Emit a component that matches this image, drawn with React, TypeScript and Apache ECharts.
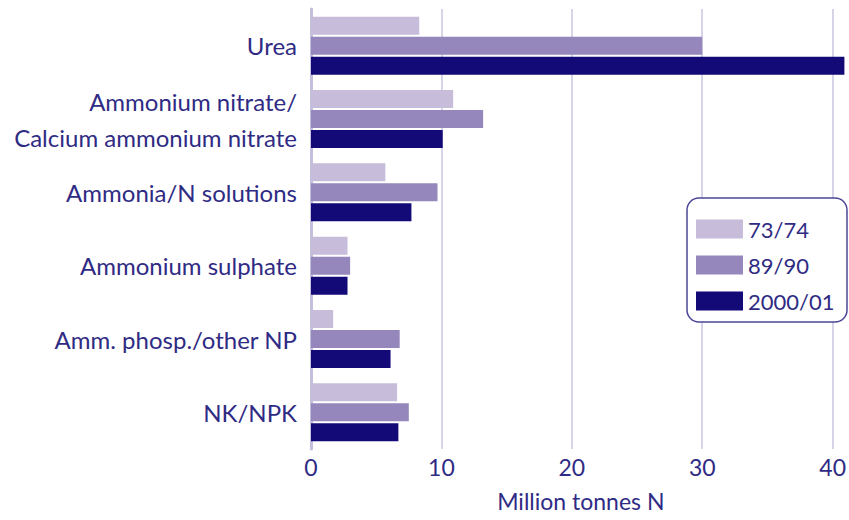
import React, { useEffect, useRef } from "react";
import * as echarts from "echarts";

const categories = [
  "Urea",
  "Ammonium nitrate/\nCalcium ammonium nitrate",
  "Ammonia/N solutions",
  "Ammonium sulphate",
  "Amm. phosp./other NP",
  "NK/NPK",
];
const seriesNames = ["73/74", "89/90", "2000/01"];
const values7374 = [8.3, 10.9, 5.7, 2.8, 1.7, 6.6];
const values8990 = [30.0, 13.2, 9.7, 3.0, 6.8, 7.5];
const values2000 = [40.9, 10.1, 7.7, 2.8, 6.1, 6.7];
const xMin = 0;
const xMax = 40;
const xInterval = 10;
const axisTitle = "Million tonnes N";

const colors = ["#c7bcd9", "#9587bb", "#130a78"];
const textColor = "#2f2b84";
const font = "Lato, 'Noto Sans', sans-serif";

export default function App() {
  const ref = useRef<HTMLDivElement>(null);
  useEffect(() => {
    if (!ref.current) return;
    const chart = echarts.init(ref.current, null, { renderer: "svg" });
    const allValues = [values7374, values8990, values2000];
    chart.setOption({
      animation: false,
      backgroundColor: "#ffffff",
      grid: { left: 311, top: 9, width: 522, height: 440, containLabel: false },
      xAxis: {
        type: "value",
        min: xMin,
        max: xMax,
        interval: xInterval,
        axisLine: { show: false },
        axisTick: { show: false },
        splitLine: { show: true, showMinLine: false, lineStyle: { color: "#c8c6e2", width: 1.5 } },
        axisLabel: { color: textColor, fontSize: 23, fontFamily: font, margin: 6 },
        name: axisTitle,
        nameLocation: "middle",
        nameGap: 40,
        nameTextStyle: { color: textColor, fontSize: 23, fontFamily: font, padding: [0, 0, 0, 18] },
      },
      yAxis: {
        type: "category",
        data: categories,
        inverse: true,
        offset: 5,
        axisLine: { show: true, lineStyle: { color: "#c4bfdc", width: 3 } },
        axisTick: { show: false },
        splitLine: { show: false },
        axisLabel: { color: textColor, fontSize: 24, fontFamily: font, margin: 9, lineHeight: 36, align: "right" },
      },
      legend: {
        orient: "vertical",
        left: 696,
        top: 218,
        z: 20,
        padding: 0,
        icon: "rect",
        itemWidth: 47,
        itemHeight: 19,
        itemGap: 14,
        data: seriesNames,
        textStyle: { color: textColor, fontSize: 22, fontFamily: font, lineHeight: 19 },
      },
      graphic: [
        {
          type: "rect",
          z: 15,
          shape: { x: 687, y: 198, width: 160, height: 124, r: 12 },
          style: { fill: "#ffffff", stroke: "#4b4796", lineWidth: 1.5 },
        },
      ],
      series: seriesNames.map((name, i) => ({
        name,
        type: "bar",
        data: allValues[i],
        barWidth: 18,
        barGap: "11%",
        clip: false,
        itemStyle: { color: colors[i] },
      })),
    });
    return () => chart.dispose();
  }, []);
  return (
    <div
      ref={ref}
      style={{ position: "fixed", left: 0, top: 0, width: 849, height: 520 }}
    />
  );
}
